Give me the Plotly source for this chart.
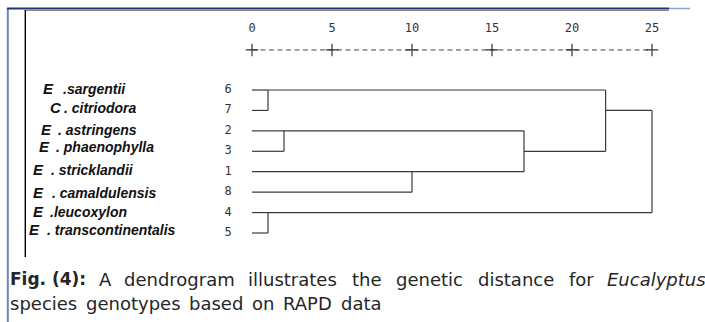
import math
import plotly.graph_objects as go

# ---------------- data ----------------
LEAF_ORDER = ["6", "7", "2", "3", "1", "8", "4", "5"]
GENUS = ["E", "C", "E", "E", "E", "E", "E", "E"]
SPECIES = [".sargentii", ". citriodora", ". astringens", ". phaenophylla",
           ". stricklandii", ". camaldulensis", ".leucoxylon", ". transcontinentalis"]
MERGE_LEFT = ["6", "2", "1", "4", "m1", "m0", "m5"]
MERGE_RIGHT = ["7", "3", "8", "5", "m2", "m4", "m3"]
MERGE_HEIGHT = [1.0, 2.0, 10.0, 1.0, 17.0, 22.1, 25.0]
TICK_VALUES = [0, 5, 10, 15, 20, 25]
TICK_LABELS = ["0", "5", "10", "15", "20", "25"]

CAPTION_BOLD = "Fig. (4):"
CAPTION_WORDS = ["A", "dendrogram", "illustrates", "the", "genetic", "distance", "for"]
CAPTION_ITALIC = "Eucalyptus"
CAPTION_LINE2 = ["species", "genotypes", "based", "on", "RAPD", "data"]

# ---------------- layout constants (pixels) ----------------
W, H = 705, 322
X0_PX, PX_PER_UNIT = 252.0, 16.0
ROW0_PX, ROW_STEP = 90.0, 20.43

GENUS_X = [43, 50, 41, 39, 33, 33, 33, 29]
REST_X = [63, 64, 58, 56, 51, 52, 50, 47]
LABEL_Y = [90, 109, 131, 148, 171, 194, 213, 231]
WORD_X = [99, 124, 248, 352, 396, 478, 569]
ITALIC_X = 607
LINE2_X = [10, 86, 189, 252, 283, 341]
LINE1_Y, LINE2_Y = 281, 305

LINE_COLOR = "#3a3a3a"
TEXT_COLOR = "#262626"


def dx(px):
    return (px - X0_PX) / PX_PER_UNIT


def dy(py):
    return (py - ROW0_PX) / ROW_STEP


def px_x(px):
    return px / W


def px_y(px):
    return 1 - px / H


# ---------------- dendrogram geometry ----------------
row_of = {leaf: i for i, leaf in enumerate(LEAF_ORDER)}
xpos = {leaf: 0.0 for leaf in LEAF_ORDER}
seg_x, seg_y = [], []
for i, (l, r, h) in enumerate(zip(MERGE_LEFT, MERGE_RIGHT, MERGE_HEIGHT)):
    rl, rr = row_of[l], row_of[r]
    seg_x += [xpos[l], h, None, xpos[r], h, None, h, h, None]
    seg_y += [rl, rl, None, rr, rr, None, rl, rr, None]
    name = "m%d" % i
    row_of[name] = math.floor((rl + rr) / 2)
    xpos[name] = h

fig = go.Figure()
fig.add_trace(go.Scatter(x=seg_x, y=seg_y, mode="lines",
                         line=dict(color=LINE_COLOR, width=1.2),
                         hoverinfo="skip", showlegend=False))

mono = dict(family="DejaVu Sans Mono", size=12, color="#333")
# leaf numbers
fig.add_trace(go.Scatter(x=[-1.5] * len(LEAF_ORDER), y=list(range(len(LEAF_ORDER))),
                         mode="text", text=LEAF_ORDER, textfont=mono,
                         hoverinfo="skip", showlegend=False))

# scale ruler
fig.add_trace(go.Scatter(x=TICK_VALUES, y=[-3.0] * len(TICK_VALUES), mode="text",
                         text=TICK_LABELS, textfont=mono,
                         hoverinfo="skip", showlegend=False))
fig.add_trace(go.Scatter(x=[TICK_VALUES[0], TICK_VALUES[-1]], y=[-1.96, -1.96], mode="lines",
                         line=dict(color="#444", width=1, dash="5px,3.5px"),
                         hoverinfo="skip", showlegend=False))
fig.add_trace(go.Scatter(x=TICK_VALUES, y=[-1.96] * len(TICK_VALUES), mode="markers",
                         marker=dict(symbol="cross-thin", size=9,
                                     line=dict(color="#333", width=1.2)),
                         hoverinfo="skip", showlegend=False))


def text_trace(xs_px, ys_px, texts, font):
    fig.add_trace(go.Scatter(x=[dx(p) for p in xs_px], y=[dy(p) for p in ys_px],
                             mode="text", text=texts, textposition="middle right",
                             textfont=font, cliponaxis=False,
                             hoverinfo="skip", showlegend=False))


# species labels
lab_font_g = dict(family="Liberation Sans", size=15, color="#111")
lab_font_s = dict(family="Liberation Sans", size=14, color="#111")
text_trace(GENUS_X, LABEL_Y, ["<b><i>%s</i></b>" % g for g in GENUS], lab_font_g)
text_trace(REST_X, LABEL_Y, ["<b><i>%s</i></b>" % s for s in SPECIES], lab_font_s)

# caption
cap_font = dict(family="DejaVu Sans", size=18, color=TEXT_COLOR)
bold_font = dict(family="DejaVu Sans", size=17, color=TEXT_COLOR)
text_trace([10], [LINE1_Y], ["<b>%s</b>" % CAPTION_BOLD], bold_font)
text_trace(WORD_X, [LINE1_Y] * len(WORD_X), CAPTION_WORDS, cap_font)
text_trace([ITALIC_X], [LINE1_Y], ["<i>%s</i>" % CAPTION_ITALIC], cap_font)
text_trace(LINE2_X, [LINE2_Y] * len(LINE2_X), CAPTION_LINE2, cap_font)

# ---------------- axes ----------------
fig.update_xaxes(range=[dx(0), dx(W)], visible=False, domain=[0, 1])
fig.update_yaxes(range=[dy(H), dy(0)], visible=False, domain=[0, 1])

# ---------------- frame lines ----------------
shapes = [
    dict(type="line", xref="paper", yref="paper", x0=px_x(7.8), x1=px_x(7.8),
         y0=px_y(8), y1=px_y(H), line=dict(color="#6d82bf", width=2)),
    dict(type="line", xref="paper", yref="paper", x0=px_x(7), x1=px_x(669),
         y0=px_y(8.5), y1=px_y(8.5), line=dict(color="#1e3577", width=2)),
    dict(type="line", xref="paper", yref="paper", x0=px_x(669), x1=px_x(690),
         y0=px_y(8.5), y1=px_y(8.5), line=dict(color="#8da0d0", width=1.5)),
    dict(type="line", xref="paper", yref="paper", x0=px_x(25), x1=px_x(669),
         y0=px_y(10.3), y1=px_y(10.3), line=dict(color="#8a8a8a", width=1.2)),
    dict(type="line", xref="paper", yref="paper", x0=px_x(25.3), x1=px_x(25.3),
         y0=px_y(10), y1=px_y(257), line=dict(color="#000", width=1.4)),
]

fig.update_layout(width=W, height=H, margin=dict(l=0, r=0, t=0, b=0),
                  paper_bgcolor="white", plot_bgcolor="white",
                  shapes=shapes, showlegend=False)

fig.write_html("out.html", config={"displayModeBar": False},
               post_script="document.body.style.margin='0';document.body.style.overflow='hidden';")
